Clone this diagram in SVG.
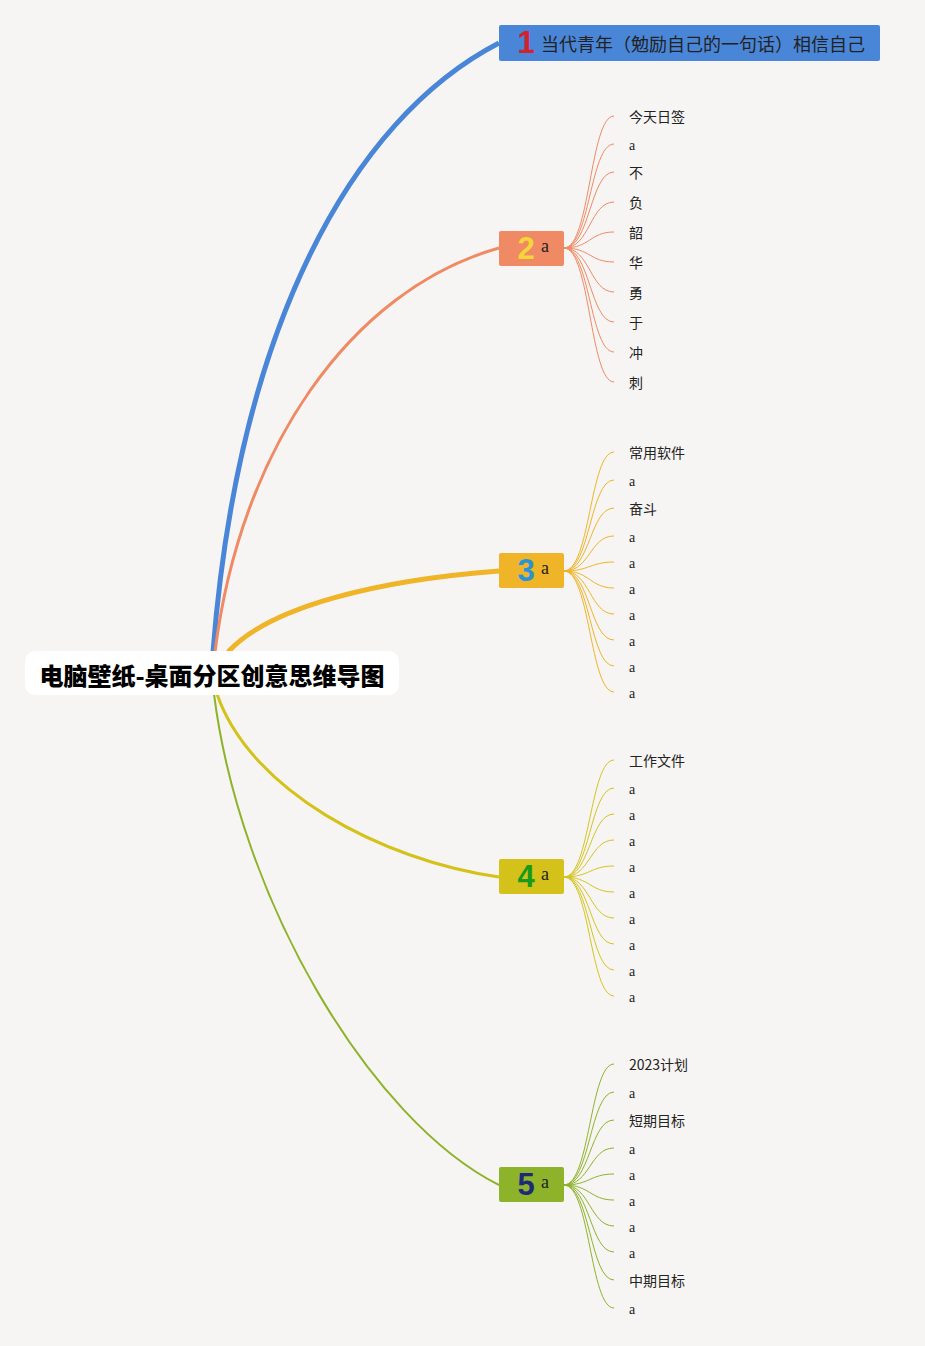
<svg xmlns="http://www.w3.org/2000/svg" width="925" height="1346" viewBox="0 0 925 1346">
<style>
.cjk{font-family:"Noto Sans CJK SC","Noto Sans",sans-serif;fill:#222}
.leaf{font-size:14px;dominant-baseline:central}
.lat{font-family:"Liberation Serif",serif;fill:#222;font-size:14px;dominant-baseline:central}
.num{font-family:"Liberation Sans",Arial,sans-serif;font-weight:bold;font-size:31px;dominant-baseline:central;text-anchor:middle}
.na{font-family:"Liberation Serif",serif;fill:#222;font-size:18px;dominant-baseline:central}
.l2{fill:none;stroke:#f08a64;stroke-width:1}
.l3{fill:none;stroke:#f0b429;stroke-width:1}
.l4{fill:none;stroke:#d4c420;stroke-width:1}
.l5{fill:none;stroke:#8db32a;stroke-width:1}
</style>
<rect width="925" height="1346" fill="#f6f5f3"/>
<g id="connectors">
<path d="M213,652 C238,330 350,120 499,43" fill="none" stroke="#4a86d8" stroke-width="5"/>
<path d="M215,652 C240,450 350,290 499,248" fill="none" stroke="#f08a64" stroke-width="3"/>
<path d="M228,652 C270,606 380,580 499,571" fill="none" stroke="#f0b429" stroke-width="5"/>
<path d="M217,694 C250,790 380,860 499,877" fill="none" stroke="#d4c21a" stroke-width="3"/>
<path d="M214,694 C240,900 370,1120 499,1185" fill="none" stroke="#8db32a" stroke-width="2"/>
<g class="l2">
<path d="M564,248 C590,248 590,116 614,116"/>
<path d="M564,248 C590,248 590,144 614,144"/>
<path d="M564,248 C590,248 590,172 614,172"/>
<path d="M564,248 C590,248 590,202 614,202"/>
<path d="M564,248 C590,248 590,232 614,232"/>
<path d="M564,248 C590,248 590,262 614,262"/>
<path d="M564,248 C590,248 590,292 614,292"/>
<path d="M564,248 C590,248 590,322 614,322"/>
<path d="M564,248 C590,248 590,352 614,352"/>
<path d="M564,248 C590,248 590,382 614,382"/>
</g>
<g class="l3">
<path d="M564,571 C590,571 590,452 614,452"/>
<path d="M564,571 C590,571 590,480 614,480"/>
<path d="M564,571 C590,571 590,508 614,508"/>
<path d="M564,571 C590,571 590,536 614,536"/>
<path d="M564,571 C590,571 590,562 614,562"/>
<path d="M564,571 C590,571 590,588 614,588"/>
<path d="M564,571 C590,571 590,614 614,614"/>
<path d="M564,571 C590,571 590,640 614,640"/>
<path d="M564,571 C590,571 590,666 614,666"/>
<path d="M564,571 C590,571 590,692 614,692"/>
</g>
<g class="l4">
<path d="M564,877 C590,877 590,760 614,760"/>
<path d="M564,877 C590,877 590,788 614,788"/>
<path d="M564,877 C590,877 590,814 614,814"/>
<path d="M564,877 C590,877 590,840 614,840"/>
<path d="M564,877 C590,877 590,866 614,866"/>
<path d="M564,877 C590,877 590,892 614,892"/>
<path d="M564,877 C590,877 590,918 614,918"/>
<path d="M564,877 C590,877 590,944 614,944"/>
<path d="M564,877 C590,877 590,970 614,970"/>
<path d="M564,877 C590,877 590,996 614,996"/>
</g>
<g class="l5">
<path d="M564,1185 C590,1185 590,1064 614,1064"/>
<path d="M564,1185 C590,1185 590,1092 614,1092"/>
<path d="M564,1185 C590,1185 590,1120 614,1120"/>
<path d="M564,1185 C590,1185 590,1148 614,1148"/>
<path d="M564,1185 C590,1185 590,1174 614,1174"/>
<path d="M564,1185 C590,1185 590,1200 614,1200"/>
<path d="M564,1185 C590,1185 590,1226 614,1226"/>
<path d="M564,1185 C590,1185 590,1252 614,1252"/>
<path d="M564,1185 C590,1185 590,1280 614,1280"/>
<path d="M564,1185 C590,1185 590,1308 614,1308"/>
</g>
</g>
<g id="root">
<rect x="25" y="651" width="374" height="44" rx="10" fill="#ffffff"/>
<text x="212" y="674" class="cjk" font-size="24" font-weight="900" text-anchor="middle" dominant-baseline="central" style="fill:#000">电脑壁纸-桌面分区创意思维导图</text>
</g>
<g id="node1">
<rect x="499" y="25" width="381" height="36" rx="2" fill="#4a86d8"/>
<text x="526" y="42" class="num" fill="#d6202a">1</text>
<text x="541" y="43" class="cjk" font-size="18" dominant-baseline="central">当代青年（勉励自己的一句话）相信自己</text>
</g>
<g id="node2">
<rect x="499" y="231" width="65" height="35" rx="2" fill="#f08a64"/>
<text x="526" y="248" class="num" fill="#f5d63a">2</text>
<text x="541" y="246" class="na">a</text>
</g>
<g id="node2-leaves">
<text x="629" y="116" class="cjk leaf">今天日签</text>
<text x="629" y="145" class="lat">a</text>
<text x="629" y="172" class="cjk leaf">不</text>
<text x="629" y="202" class="cjk leaf">负</text>
<text x="629" y="232" class="cjk leaf">韶</text>
<text x="629" y="262" class="cjk leaf">华</text>
<text x="629" y="292" class="cjk leaf">勇</text>
<text x="629" y="322" class="cjk leaf">于</text>
<text x="629" y="352" class="cjk leaf">冲</text>
<text x="629" y="382" class="cjk leaf">刺</text>
</g>
<g id="node3">
<rect x="499" y="553" width="65" height="35" rx="2" fill="#f0b429"/>
<text x="526" y="570" class="num" fill="#2a93d5">3</text>
<text x="541" y="568" class="na">a</text>
</g>
<g id="node3-leaves">
<text x="629" y="452" class="cjk leaf">常用软件</text>
<text x="629" y="481" class="lat">a</text>
<text x="629" y="508" class="cjk leaf">奋斗</text>
<text x="629" y="537" class="lat">a</text>
<text x="629" y="563" class="lat">a</text>
<text x="629" y="589" class="lat">a</text>
<text x="629" y="615" class="lat">a</text>
<text x="629" y="641" class="lat">a</text>
<text x="629" y="667" class="lat">a</text>
<text x="629" y="693" class="lat">a</text>
</g>
<g id="node4">
<rect x="499" y="859" width="65" height="35" rx="2" fill="#d4c21a"/>
<text x="526" y="876" class="num" fill="#1a9a1a">4</text>
<text x="541" y="874" class="na">a</text>
</g>
<g id="node4-leaves">
<text x="629" y="760" class="cjk leaf">工作文件</text>
<text x="629" y="789" class="lat">a</text>
<text x="629" y="815" class="lat">a</text>
<text x="629" y="841" class="lat">a</text>
<text x="629" y="867" class="lat">a</text>
<text x="629" y="893" class="lat">a</text>
<text x="629" y="919" class="lat">a</text>
<text x="629" y="945" class="lat">a</text>
<text x="629" y="971" class="lat">a</text>
<text x="629" y="997" class="lat">a</text>
</g>
<g id="node5">
<rect x="499" y="1167" width="65" height="35" rx="2" fill="#8db32a"/>
<text x="526" y="1184" class="num" fill="#1e2a78">5</text>
<text x="541" y="1182" class="na">a</text>
</g>
<g id="node5-leaves">
<text x="629" y="1064" class="cjk leaf">2023计划</text>
<text x="629" y="1093" class="lat">a</text>
<text x="629" y="1120" class="cjk leaf">短期目标</text>
<text x="629" y="1149" class="lat">a</text>
<text x="629" y="1175" class="lat">a</text>
<text x="629" y="1201" class="lat">a</text>
<text x="629" y="1227" class="lat">a</text>
<text x="629" y="1253" class="lat">a</text>
<text x="629" y="1280" class="cjk leaf">中期目标</text>
<text x="629" y="1309" class="lat">a</text>
</g>
</svg>
